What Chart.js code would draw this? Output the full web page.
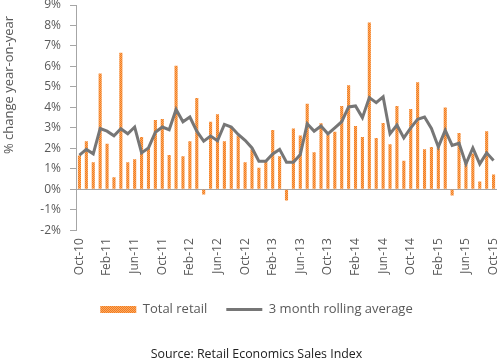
<!DOCTYPE html>
<html>
<head>
<meta charset="utf-8">
<script src="https://cdn.jsdelivr.net/npm/chart.js@4.4.1/dist/chart.umd.min.js"></script>
<style>
  html, body { margin: 0; padding: 0; background: #fff; overflow: hidden; }
  #wrap { width: 500px; height: 359px; overflow: hidden; }
</style>
</head>
<body>
<div id="wrap"><canvas id="chart" width="500" height="362"></canvas></div>
<script>
const months = ['Oct-10','Nov-10','Dec-10','Jan-11','Feb-11','Mar-11','Apr-11','May-11','Jun-11','Jul-11',
  'Aug-11','Sep-11','Oct-11','Nov-11','Dec-11','Jan-12','Feb-12','Mar-12','Apr-12','May-12',
  'Jun-12','Jul-12','Aug-12','Sep-12','Oct-12','Nov-12','Dec-12','Jan-13','Feb-13','Mar-13',
  'Apr-13','May-13','Jun-13','Jul-13','Aug-13','Sep-13','Oct-13','Nov-13','Dec-13','Jan-14',
  'Feb-14','Mar-14','Apr-14','May-14','Jun-14','Jul-14','Aug-14','Sep-14','Oct-14','Nov-14',
  'Dec-14','Jan-15','Feb-15','Mar-15','Apr-15','May-15','Jun-15','Jul-15','Aug-15','Sep-15','Oct-15'];

const totalRetail = [1.65, 2.35, 1.32, 5.65, 2.22, 0.59, 6.67, 1.32, 1.47, 2.55,
  2.0, 3.38, 3.43, 1.67, 6.03, 1.62, 2.35, 4.46, -0.25, 3.3,
  3.66, 2.35, 3.0, 2.63, 1.32, 1.95, 1.05, 1.37, 2.9, 1.62,
  -0.55, 2.97, 2.63, 4.18, 1.81, 3.22, 2.68, 2.81, 4.07, 5.08,
  3.09, 2.55, 8.14, 2.5, 3.24, 2.2, 4.07, 1.39, 3.92, 5.23,
  1.96, 2.07, 2.05, 3.99, -0.3, 2.75, 1.3, 1.75, 0.38, 2.83, 0.72];

const rollingAvg = [1.67, 1.95, 1.73, 2.97, 2.84, 2.61, 2.96, 2.71, 3.04, 1.78,
  2.02, 2.79, 3.04, 2.91, 3.9, 3.3, 3.53, 2.84, 2.35, 2.6,
  2.37, 3.17, 3.04, 2.68, 2.39, 2.02, 1.37, 1.37, 1.73, 1.95,
  1.32, 1.32, 1.7, 3.2, 2.84, 3.09, 2.71, 3.0, 3.3, 4.02,
  4.07, 3.5, 4.48, 4.23, 4.52, 2.71, 3.14, 2.51, 3.0, 3.42,
  3.53, 2.97, 2.07, 2.88, 2.14, 2.25, 1.24, 2.02, 1.24, 1.78, 1.41];

const yTitle = '% change year-on-year';
const sourceText = 'Source: Retail Economics Sales Index';

const FONT = '"Open Sans", "DejaVu Sans", sans-serif';
const TEXT = '#595959';
const AXIS = '#a6a6a6';

// dotted orange fill like the excel pattern
function orangePattern() {
  const pc = document.createElement('canvas');
  pc.width = 2;
  pc.height = 2;
  const p = pc.getContext('2d');
  p.fillStyle = '#f9a865';
  p.fillRect(0, 0, 2, 2);
  p.fillStyle = '#f47d1c';
  p.fillRect(0, 0, 1, 1);
  p.fillRect(1, 1, 1, 1);
  return p.createPattern(pc, 'repeat');
}

const ctx = document.getElementById('chart').getContext('2d');
const barFill = orangePattern();

// rotated y title sits higher than the axis centre in the original
const yTitlePlugin = {
  id: 'yTitle',
  afterDraw(chart) {
    const c = chart.ctx;
    c.save();
    c.translate(9, 85);
    c.rotate(-Math.PI / 2);
    c.font = '13px ' + FONT;
    c.fillStyle = TEXT;
    c.textAlign = 'center';
    c.textBaseline = 'middle';
    c.fillText(yTitle, 0, 0);
    c.restore();
  }
};

new Chart(ctx, {
  data: {
    labels: months,
    datasets: [
      {
        type: 'line',
        label: '3 month rolling average',
        data: rollingAvg,
        borderColor: '#767676',
        backgroundColor: '#767676',
        borderWidth: 3,
        pointRadius: 0,
        tension: 0,
        pointStyle: 'line',
        order: 0
      },
      {
        type: 'bar',
        label: 'Total retail',
        data: totalRetail,
        backgroundColor: barFill,
        borderWidth: 0,
        categoryPercentage: 1,
        barPercentage: 0.45,
        pointStyle: 'rect',
        order: 1
      }
    ]
  },
  options: {
    responsive: false,
    animation: false,
    layout: { padding: { left: 16, right: 3, top: 5, bottom: 0 } },
    scales: {
      x: {
        // no extra side padding for the rotated end labels
        afterFit: s => { s.paddingLeft = 0; s.paddingRight = 0; },
        grid: { display: false, drawTicks: false },
        border: { display: false },
        ticks: {
          autoSkip: false,
          minRotation: 90,
          maxRotation: 90,
          padding: 8,
          color: TEXT,
          font: { family: FONT, size: 12 },
          callback: function(val, i) {
            return i % 4 === 0 ? months[i] : '';
          }
        }
      },
      y: {
        min: -2,
        max: 9,
        afterFit: s => { s.width = 60; s.paddingTop = 0; s.paddingBottom = 0; },
        ticks: {
          stepSize: 1,
          padding: 9,
          color: TEXT,
          font: { family: FONT, size: 12 },
          callback: v => v + '%'
        },
        grid: {
          color: c => c.tick && c.tick.value === 0 ? AXIS : 'rgba(0,0,0,0)',
          tickColor: AXIS,
          tickLength: 6
        },
        border: { color: AXIS }
      }
    },
    plugins: {
      legend: {
        position: 'bottom',
        reverse: true,
        labels: {
          usePointStyle: true,
          pointStyleWidth: 36,
          boxHeight: 7,
          padding: 19,
          color: TEXT,
          font: { family: FONT, size: 13 }
        }
      },
      title: {
        display: true,
        position: 'bottom',
        text: sourceText,
        color: '#222',
        font: { family: FONT, size: 12.4, weight: 'normal' },
        padding: { top: 21, bottom: 0 }
      },
      tooltip: { enabled: false }
    }
  },
  plugins: [yTitlePlugin]
});
</script>
</body>
</html>
